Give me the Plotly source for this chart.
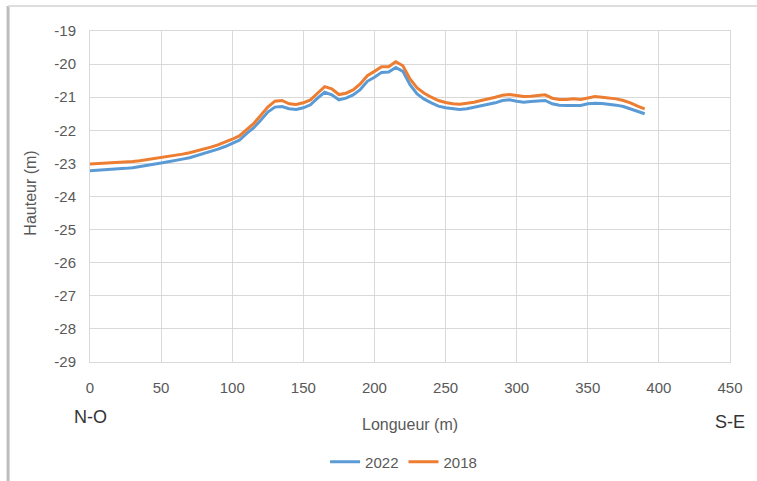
import plotly.graph_objects as go

# Distance along the profile (m)
longueur = list(range(0, 395, 5))

# Elevation profile surveyed in 2022 (m)
hauteur_2022 = [
    -23.22, -23.21, -23.20, -23.19, -23.17, -23.15, -23.13, -23.10, -23.07, -23.03,
    -22.99, -22.95, -22.92, -22.87, -22.83, -22.77, -22.71, -22.65, -22.57, -22.49,
    -22.39, -22.30, -22.10, -21.93, -21.70, -21.45, -21.30, -21.28, -21.35, -21.37,
    -21.32, -21.23, -21.03, -20.85, -20.93, -21.08, -21.03, -20.93, -20.77, -20.52,
    -20.40, -20.25, -20.24, -20.10, -20.22, -20.62, -20.90, -21.06, -21.17, -21.27,
    -21.32, -21.35, -21.37, -21.35, -21.31, -21.26, -21.22, -21.17, -21.10, -21.08,
    -21.12, -21.15, -21.13, -21.12, -21.10, -21.20, -21.24, -21.25, -21.24, -21.25,
    -21.20, -21.18, -21.19, -21.21, -21.24, -21.28, -21.35, -21.44, -21.50,
]

# Elevation profile surveyed in 2018 (m)
hauteur_2018 = [
    -23.02, -23.01, -23.00, -22.99, -22.97, -22.96, -22.94, -22.92, -22.89, -22.86,
    -22.82, -22.79, -22.76, -22.72, -22.68, -22.63, -22.57, -22.51, -22.44, -22.36,
    -22.27, -22.17, -21.97, -21.80, -21.55, -21.30, -21.12, -21.10, -21.20, -21.22,
    -21.17, -21.08, -20.88, -20.68, -20.75, -20.92, -20.88, -20.78, -20.60, -20.35,
    -20.22, -20.08, -20.08, -19.93, -20.05, -20.45, -20.72, -20.88, -21.00, -21.10,
    -21.16, -21.20, -21.21, -21.19, -21.15, -21.10, -21.06, -21.00, -20.94, -20.92,
    -20.95, -20.98, -20.97, -20.95, -20.93, -21.03, -21.07, -21.07, -21.05, -21.07,
    -21.02, -20.98, -21.00, -21.02, -21.05, -21.10, -21.17, -21.27, -21.35,
]

x_ticks = list(range(0, 451, 50))
y_ticks = list(range(-29, -18, 1))
y_tick_text = [str(v) for v in y_ticks]  # plain hyphen minus sign

FONT = "Liberation Sans, Arial, sans-serif"
GRAY = "#595959"
GRID = "#D9D9D9"

fig = go.Figure()
fig.add_trace(go.Scatter(x=longueur, y=hauteur_2022, mode="lines", name="2022",
                         line=dict(color="#5B9BD5", width=3)))
fig.add_trace(go.Scatter(x=longueur, y=hauteur_2018, mode="lines", name="2018",
                         line=dict(color="#ED7D31", width=3)))

fig.update_layout(
    width=757, height=481,
    margin=dict(l=90, r=27, t=31, b=119, autoexpand=False),
    paper_bgcolor="white", plot_bgcolor="white",
    font=dict(family=FONT, size=15, color=GRAY),
    showlegend=True,
    legend=dict(orientation="h", x=0.49, y=-0.302, xanchor="center", yanchor="middle",
                font=dict(size=15, color=GRAY), itemwidth=30, tracegroupgap=0),
    xaxis=dict(range=[0, 450], tickvals=x_ticks, showgrid=True, gridcolor=GRID,
               gridwidth=1, zeroline=False, showline=True, linecolor=GRID,
               mirror=True, ticks="", ticklabelstandoff=12,
               tickfont=dict(size=15, color=GRAY)),
    yaxis=dict(range=[-29, -19], tickvals=y_ticks, ticktext=y_tick_text,
               showgrid=True, gridcolor=GRID,
               gridwidth=1, zeroline=False, showline=True, linecolor=GRID,
               mirror=True, ticks="", ticklabelstandoff=10,
               tickfont=dict(size=15, color=GRAY)),
)

# Chart frame: shaded left edge and thin top edge
fig.add_shape(type="line", xref="paper", yref="paper",
              x0=-0.128, x1=-0.128, y0=-0.37, y1=1.0755,
              line=dict(color="#BDBDBD", width=3), layer="below")
fig.add_shape(type="line", xref="paper", yref="paper",
              x0=-0.128, x1=1.05, y0=1.0755, y1=1.0755,
              line=dict(color="#DDDDDD", width=2), layer="below")

fig.add_annotation(text="Hauteur (m)", xref="paper", yref="paper",
                   x=-0.093, y=0.51, textangle=-90, showarrow=False,
                   xanchor="center", yanchor="middle",
                   font=dict(size=16, color=GRAY))
fig.add_annotation(text="Longueur (m)", xref="paper", yref="paper",
                   x=0.5, y=-0.19, showarrow=False,
                   xanchor="center", yanchor="middle",
                   font=dict(size=16, color=GRAY))
fig.add_annotation(text="N-O", xref="paper", yref="paper",
                   x=0.0, y=-0.166, showarrow=False,
                   xanchor="center", yanchor="middle",
                   font=dict(size=18, color="#333333"))
fig.add_annotation(text="S-E", xref="paper", yref="paper",
                   x=1.0, y=-0.181, showarrow=False,
                   xanchor="center", yanchor="middle",
                   font=dict(size=18, color="#333333"))

fig.write_html("out.html")
